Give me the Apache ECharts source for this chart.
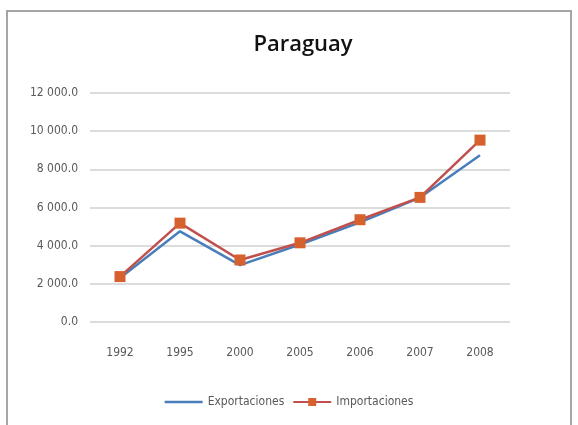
<!DOCTYPE html>
<html>
<head>
<meta charset="utf-8">
<script src="https://cdn.jsdelivr.net/npm/echarts@6/dist/echarts.min.js"></script>
<style>
  html, body { margin: 0; padding: 0; background: #fff; }
  #frame { position: absolute; left: 6px; top: 10px; width: 566px; height: 430px; border: 2px solid #a6a6a6; box-sizing: border-box; }
  #chart { width: 578px; height: 425px; }
</style>
</head>
<body>
<div id="frame"></div>
<div id="chart"></div>
<script>
// datos
var years = ['1992', '1995', '2000', '2005', '2006', '2007', '2008'];
var exportaciones = [2300, 4750, 2980, 4060, 5220, 6520, 8740];
var importaciones = [2380, 5180, 3250, 4150, 5360, 6530, 9530];

var myChart = echarts.init(document.getElementById('chart'));

function fmt(v) {
  var s = v.toFixed(1);
  var parts = s.split('.');
  var ent = parts[0].replace(/\B(?=(\d{3})+(?!\d))/g, ' ');
  return ent + '.' + parts[1];
}

var labelFont = 'DejaVu Sans Condensed, Liberation Sans Narrow, sans-serif';

var option = {
  animation: false,
  title: {
    text: 'Paraguay',
    left: 298,
    top: 29,
    textAlign: 'center',
    textStyle: { fontFamily: 'Open Sans, sans-serif', fontSize: 22, fontWeight: 600, color: '#111' }
  },
  legend: {
    bottom: 12,
    left: 'center',
    itemWidth: 38,
    itemHeight: 10,
    itemGap: 8,
    textStyle: { fontFamily: labelFont, fontSize: 12, color: '#595959' },
    data: [
      { name: 'Exportaciones', icon: 'path://M0,4 L40,4 L40,6.5 L0,6.5 Z', itemStyle: { color: '#4a7ebb' } },
      { name: 'Importaciones' }
    ]
  },
  grid: { left: 90, right: 68, top: 93, bottom: 103 },
  xAxis: {
    type: 'category',
    data: years,
    boundaryGap: true,
    axisLine: { show: false },
    axisTick: { show: false },
    axisLabel: { margin: 25, fontFamily: labelFont, fontSize: 12, color: '#595959' }
  },
  yAxis: {
    type: 'value',
    min: 0,
    max: 12000,
    interval: 2000,
    axisLine: { show: false },
    axisTick: { show: false },
    splitLine: { lineStyle: { color: '#d0d0d0', width: 1.5 } },
    axisLabel: {
      margin: 12,
      fontFamily: labelFont,
      fontSize: 12,
      color: '#595959',
      formatter: function (v) { return fmt(v); }
    }
  },
  series: [
    {
      name: 'Exportaciones',
      type: 'line',
      data: exportaciones,
      symbol: 'none',
      lineStyle: { color: '#4a7ebb', width: 2.5 },
      itemStyle: { color: '#4a7ebb' }
    },
    {
      name: 'Importaciones',
      type: 'line',
      data: importaciones,
      symbol: 'rect',
      symbolSize: 11,
      lineStyle: { color: '#c0504d', width: 2.5 },
      itemStyle: { color: '#d7612e' }
    }
  ]
};

myChart.setOption(option);
</script>
</body>
</html>
